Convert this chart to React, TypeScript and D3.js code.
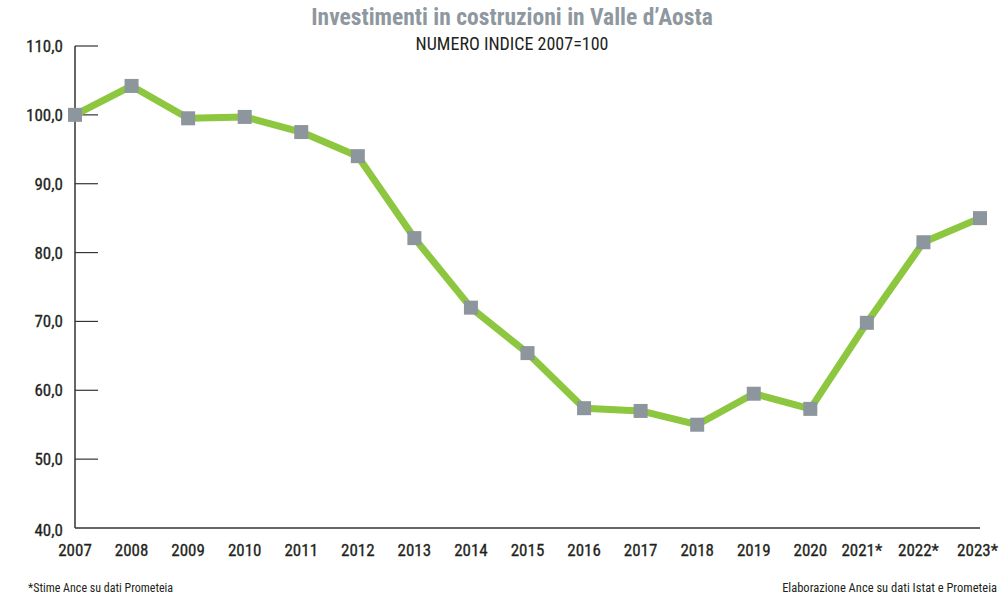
import React, { useEffect, useRef } from 'react';
import * as d3 from 'd3';

const years = ['2007', '2008', '2009', '2010', '2011', '2012', '2013', '2014', '2015', '2016', '2017', '2018', '2019', '2020', '2021*', '2022*', '2023*'];
const values = [100, 104.2, 99.5, 99.7, 97.5, 94.0, 82.1, 72.0, 65.4, 57.4, 57.0, 55.0, 59.5, 57.3, 69.8, 81.5, 85.0];
const yTicks = [40, 50, 60, 70, 80, 90, 100, 110];

const FONT = "'Liberation Sans Narrow', 'Roboto Condensed', 'Liberation Sans', sans-serif";

const App = () => {
  const svgRef = useRef<SVGSVGElement>(null);

  useEffect(() => {
    const svg = d3.select(svgRef.current);
    svg.selectAll('*').remove();

    const x = d3.scalePoint<string>().domain(years).range([75, 980]);
    const y = d3.scaleLinear().domain([40, 110]).range([528, 46]);

    // title
    svg.append('text')
      .attr('x', 512).attr('y', 25)
      .attr('text-anchor', 'middle')
      .attr('font-family', FONT)
      .attr('font-weight', 'bold')
      .attr('font-size', 23.5)
      .attr('fill', '#8e989e')
      .text('Investimenti in costruzioni in Valle d\u2019Aosta');

    svg.append('text')
      .attr('x', 512).attr('y', 50)
      .attr('text-anchor', 'middle')
      .attr('font-family', FONT)
      .attr('font-size', 18)
      .attr('fill', '#231f20')
      .text('NUMERO INDICE 2007=100');

    // axes
    svg.append('line')
      .attr('x1', 75).attr('x2', 75)
      .attr('y1', y(110)).attr('y2', y(40))
      .attr('stroke', '#333').attr('stroke-width', 1.5);
    svg.append('line')
      .attr('x1', 75).attr('x2', 980)
      .attr('y1', y(40)).attr('y2', y(40))
      .attr('stroke', '#333').attr('stroke-width', 1.5);

    svg.selectAll('line.tick')
      .data(yTicks.filter(d => d > 40))
      .enter()
      .append('line')
      .attr('class', 'tick')
      .attr('x1', 75).attr('x2', 98)
      .attr('y1', d => y(d)).attr('y2', d => y(d))
      .attr('stroke', '#333').attr('stroke-width', 1.2);

    svg.selectAll('text.ylab')
      .data(yTicks)
      .enter()
      .append('text')
      .attr('class', 'ylab')
      .attr('x', 63)
      .attr('y', d => y(d) + (d === 40 ? 8 : 6))
      .attr('text-anchor', 'end')
      .attr('font-family', FONT)
      .attr('font-size', 17)
      .attr('fill', '#231f20')
      .attr('stroke', '#231f20').attr('stroke-width', 0.3)
      .text(d => d.toFixed(1).replace('.', ','));

    svg.selectAll('text.xlab')
      .data(years)
      .enter()
      .append('text')
      .attr('class', 'xlab')
      .attr('x', (d, i) => (i === years.length - 1 ? 998 : x(d)! - (d.endsWith('*') ? 5 : 0)))
      .attr('y', 556)
      .attr('text-anchor', (d, i) => (i === years.length - 1 ? 'end' : 'middle'))
      .attr('font-family', FONT)
      .attr('font-size', 17)
      .attr('fill', '#231f20')
      .attr('stroke', '#231f20').attr('stroke-width', 0.3)
      .text(d => d);

    // line
    const line = d3.line<number>()
      .x((d, i) => x(years[i])!)
      .y(d => y(d));

    svg.append('path')
      .datum(values)
      .attr('d', line)
      .attr('fill', 'none')
      .attr('stroke', '#8dc63f')
      .attr('stroke-width', 7)
      .attr('stroke-linejoin', 'round');

    // markers
    const s = 14;
    svg.selectAll('rect.marker')
      .data(values)
      .enter()
      .append('rect')
      .attr('class', 'marker')
      .attr('x', (d, i) => x(years[i])! - s / 2)
      .attr('y', d => y(d) - s / 2)
      .attr('width', s)
      .attr('height', s)
      .attr('fill', '#8c969c');

    // notes
    svg.append('text')
      .attr('x', 28).attr('y', 592)
      .attr('font-family', FONT)
      .attr('font-size', 12)
      .attr('fill', '#231f20')
      .text('*Stime Ance su dati Prometeia');
    svg.append('text')
      .attr('x', 997).attr('y', 592)
      .attr('text-anchor', 'end')
      .attr('font-family', FONT)
      .attr('font-size', 12.5)
      .attr('fill', '#231f20')
      .text('Elaborazione Ance su dati Istat e Prometeia');
  }, []);

  return (
    <svg ref={svgRef} width={999} height={597} style={{ position: 'absolute', left: 0, top: 0 }}></svg>
  );
};

export default App;
